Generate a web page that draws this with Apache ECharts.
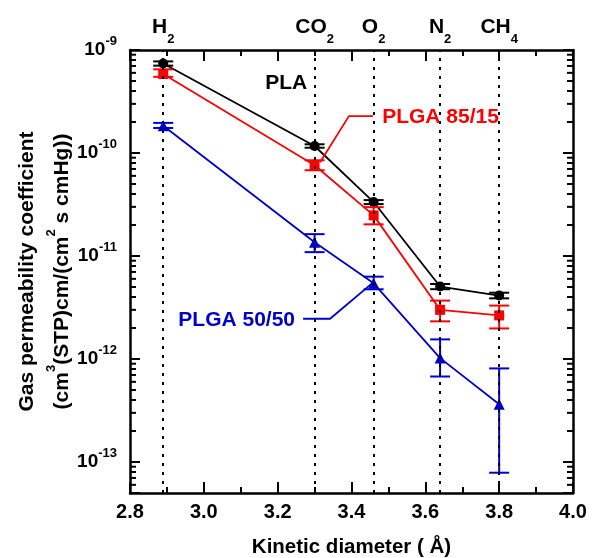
<!DOCTYPE html>
<html><head><meta charset="utf-8">
<script src="https://cdn.jsdelivr.net/npm/echarts@6/dist/echarts.min.js"></script>
<style>html,body{margin:0;padding:0;background:#fff}#c{width:596px;height:558px}</style>
</head><body><div id="c"></div>
<script>
// ---- data ----
const gasBase = ['H', 'CO', 'O', 'N', 'CH'];
const gasSub = ['2', '2', '2', '2', '4'];
const kineticDiameter = [2.89, 3.30, 3.46, 3.64, 3.80];

const plaValues = [7.4e-10, 1.17e-10, 3.34e-11, 5.05e-12, 4.13e-12];
const plaLow    = [7.05e-10, 1.125e-10, 3.19e-11, 4.76e-12, 3.88e-12];
const plaHigh   = [7.75e-10, 1.215e-10, 3.49e-11, 5.35e-12, 4.40e-12];

const plga8515Values = [5.84e-10, 7.6e-11, 2.48e-11, 3.0e-12, 2.65e-12];
const plga8515Low    = [5.49e-10, 6.8e-11, 2.03e-11, 2.32e-12, 1.98e-12];
const plga8515High   = [6.49e-10, 8.5e-11, 2.98e-11, 3.69e-12, 3.30e-12];

const plga5050Values = [1.84e-10, 1.36e-11, 5.43e-12, 1.02e-12, 3.64e-13];
const plga5050Low    = [1.75e-10, 1.09e-11, 4.75e-12, 6.76e-13, 7.87e-14];
const plga5050High   = [1.96e-10, 1.63e-11, 6.3e-12, 1.55e-12, 8.1e-13];

const xTicks = [2.8, 3.0, 3.2, 3.4, 3.6, 3.8, 4.0];
const yDecades = [-14, -13, -12, -11, -10];
const yMinorMantissas = [2, 3, 4, 5, 6, 7, 8, 9];

const annotationText = ['PLA', 'PLGA 85/15', 'PLGA 50/50'];
const annotationX = [3.223, 3.483, 3.247];
const annotationY = [4.77e-10, 2.25e-10, 2.4e-12];
const leader8515 = [[3.458, 2.28e-10], [3.393, 2.28e-10], [3.315, 8.13e-11]];
const leader5050 = [[3.269, 2.46e-12], [3.342, 2.46e-12], [3.458, 5.52e-12]];

// ---- styling ----
const FONT = '"Liberation Sans", Arial, Helvetica, sans-serif';
const BLACK = '#000000', RED = '#ff0000', BLUE = '#0000cc';
const annotationColor = [BLACK, RED, BLUE];
const annotationAlign = ['center', 'left', 'right'];
const Y_MIN = 5e-14, Y_MAX = 1e-9, X_MIN = 2.8, X_MAX = 4.0;

const yMinor = [];
yDecades.forEach(e => yMinorMantissas.forEach(m => {
  const v = m * Math.pow(10, e);
  if (v > Y_MIN * 0.999 && v < Y_MAX) yMinor.push([X_MIN, v]);
}));

function errRender(color) {
  return function (params, api) {
    const x = api.value(0);
    const lo = api.coord([x, api.value(1)]);
    const hi = api.coord([x, api.value(2)]);
    const w = 10;
    const st = { stroke: color, lineWidth: 2 };
    return {
      type: 'group',
      children: [
        { type: 'line', shape: { x1: lo[0], y1: lo[1], x2: hi[0], y2: hi[1] }, style: st },
        { type: 'line', shape: { x1: lo[0] - w, y1: lo[1], x2: lo[0] + w, y2: lo[1] }, style: st },
        { type: 'line', shape: { x1: hi[0] - w, y1: hi[1], x2: hi[0] + w, y2: hi[1] }, style: st }
      ]
    };
  };
}

function xAxisCfg(pos, showLabel) {
  return {
    type: 'value', position: pos, min: X_MIN, max: X_MAX, interval: 0.2,
    axisLine: { show: true, onZero: false, lineStyle: { color: BLACK, width: 2.5 } },
    axisTick: { show: true, inside: true, length: 11, lineStyle: { color: BLACK, width: 2 } },
    minorTick: { show: true, splitNumber: 2, length: 6, lineStyle: { color: BLACK, width: 2 } },
    splitLine: { show: false },
    axisLabel: {
      show: showLabel, margin: 9, color: BLACK, fontSize: 20, fontWeight: 'bold', fontFamily: FONT,
      formatter: v => v.toFixed(1)
    },
    name: showLabel ? 'Kinetic diameter ( Å)' : '',
    nameLocation: 'middle', nameGap: 44, nameMoveOverlap: false,
    nameTextStyle: { color: BLACK, fontSize: 20.5, fontWeight: 'bold', fontFamily: FONT }
  };
}

function yAxisCfg(pos, showLabel) {
  return {
    type: 'log', logBase: 10, position: pos, min: Y_MIN, max: Y_MAX,
    axisLine: { show: true, onZero: false, lineStyle: { color: BLACK, width: 2.5 } },
    axisTick: { show: true, inside: true, length: 10, lineStyle: { color: BLACK, width: 2 } },
    splitLine: { show: false },
    axisLabel: {
      show: showLabel, margin: 13, color: BLACK, fontFamily: FONT,
      formatter: function (v) {
        const l = Math.log10(v), e = Math.round(l);
        if (Math.abs(l - e) > 1e-6) return '';
        return '{b|10}{e|' + e + '}';
      },
      rich: {
        b: { fontSize: 19, fontWeight: 'bold', fontFamily: FONT, color: BLACK, lineHeight: 30, verticalAlign: 'middle' },
        e: { fontSize: 13, fontWeight: 'bold', fontFamily: FONT, color: BLACK, lineHeight: 14, verticalAlign: 'top' }
      }
    },
    name: showLabel ? '{t|Gas permeability coefficient}\n{t|(cm}{u|3}{t|(STP)cm/(cm}{u|2}{t| s cmHg))}' : '',
    nameLocation: 'middle', nameGap: 50, nameRotate: 90, nameMoveOverlap: false,
    nameTextStyle: {
      color: BLACK, fontFamily: FONT,
      rich: {
        t: { fontSize: 21, fontWeight: 'bold', fontFamily: FONT, color: BLACK, lineHeight: 35, verticalAlign: 'middle' },
        u: { fontSize: 13, fontWeight: 'bold', fontFamily: FONT, color: BLACK, lineHeight: 18, verticalAlign: 'top' }
      }
    }
  };
}

const chart = echarts.init(document.getElementById('c'), null, { renderer: 'canvas' });
const option = {
  animation: false,
  backgroundColor: '#ffffff',
  grid: { left: 130, right: 23, top: 50, bottom: 65, containLabel: false, outerBoundsMode: 'none' },
  xAxis: [xAxisCfg('bottom', true), xAxisCfg('top', false)],
  yAxis: [yAxisCfg('left', true), yAxisCfg('right', false)],
  series: [
    {
      type: 'line', data: [], z: 1, silent: true,
      markLine: {
        silent: true, symbol: ['none', 'none'], animation: false,
        lineStyle: { color: BLACK, width: 2, type: [3, 6] },
        label: {
          show: true, position: 'end', distance: 4, color: BLACK,
          formatter: p => '{n|' + gasBase[p.dataIndex] + '}{s|' + gasSub[p.dataIndex] + '}',
          rich: {
            n: { fontSize: 21, fontWeight: 'bold', fontFamily: FONT, color: BLACK, lineHeight: 38, verticalAlign: 'middle' },
            s: { fontSize: 13, fontWeight: 'bold', fontFamily: FONT, color: BLACK, lineHeight: 14, verticalAlign: 'bottom' }
          }
        },
        data: kineticDiameter.map(x => ({ xAxis: x }))
      }
    },
    {
      type: 'custom', z: 2, silent: true,
      renderItem: function (params, api) {
        const v = api.value(1);
        const l = api.coord([X_MIN, v]);
        const r = api.coord([X_MAX, v]);
        const st = { stroke: BLACK, lineWidth: 2 };
        return {
          type: 'group', children: [
            { type: 'line', shape: { x1: l[0], y1: l[1], x2: l[0] + 6, y2: l[1] }, style: st },
            { type: 'line', shape: { x1: r[0], y1: r[1], x2: r[0] - 6, y2: r[1] }, style: st }
          ]
        };
      },
      encode: { x: 0, y: 1 },
      data: yMinor
    },
    {
      name: 'PLGA 50/50', type: 'line', z: 3,
      data: kineticDiameter.map((x, i) => [x, plga5050Values[i]]),
      symbol: 'triangle', symbolSize: 11,
      itemStyle: { color: BLUE }, lineStyle: { color: BLUE, width: 1.8 }
    },
    {
      name: 'PLGA 85/15', type: 'line', z: 3,
      data: kineticDiameter.map((x, i) => [x, plga8515Values[i]]),
      symbol: 'rect', symbolSize: 10,
      itemStyle: { color: RED }, lineStyle: { color: RED, width: 1.8 }
    },
    {
      name: 'PLA', type: 'line', z: 3,
      data: kineticDiameter.map((x, i) => [x, plaValues[i]]),
      symbol: 'circle', symbolSize: 10,
      itemStyle: { color: BLACK }, lineStyle: { color: BLACK, width: 1.8 }
    },
    {
      type: 'custom', z: 4, silent: true, renderItem: errRender(BLUE), encode: { x: 0, y: [1, 2] },
      data: kineticDiameter.map((x, i) => [x, plga5050Low[i], plga5050High[i]])
    },
    {
      type: 'custom', z: 4, silent: true, renderItem: errRender(RED), encode: { x: 0, y: [1, 2] },
      data: kineticDiameter.map((x, i) => [x, plga8515Low[i], plga8515High[i]])
    },
    {
      type: 'custom', z: 4, silent: true, renderItem: errRender(BLACK), encode: { x: 0, y: [1, 2] },
      data: kineticDiameter.map((x, i) => [x, plaLow[i], plaHigh[i]])
    },
    {
      type: 'line', z: 3, silent: true, data: leader8515, symbol: 'none',
      lineStyle: { color: RED, width: 1.8 }
    },
    {
      type: 'line', z: 3, silent: true, data: leader5050, symbol: 'none',
      lineStyle: { color: BLUE, width: 1.8 }
    },
    {
      type: 'custom', z: 5, silent: true,
      renderItem: function (params, api) {
        const i = params.dataIndex;
        const p = api.coord([api.value(0), api.value(1)]);
        return {
          type: 'text', x: p[0], y: p[1],
          style: {
            text: annotationText[i], fill: annotationColor[i],
            fontSize: 21, fontWeight: 'bold', fontFamily: FONT,
            align: annotationAlign[i], verticalAlign: 'middle'
          }
        };
      },
      encode: { x: 0, y: 1 },
      data: annotationX.map((x, i) => [x, annotationY[i]])
    }
  ]
};
chart.setOption(option);
</script>
</body></html>
